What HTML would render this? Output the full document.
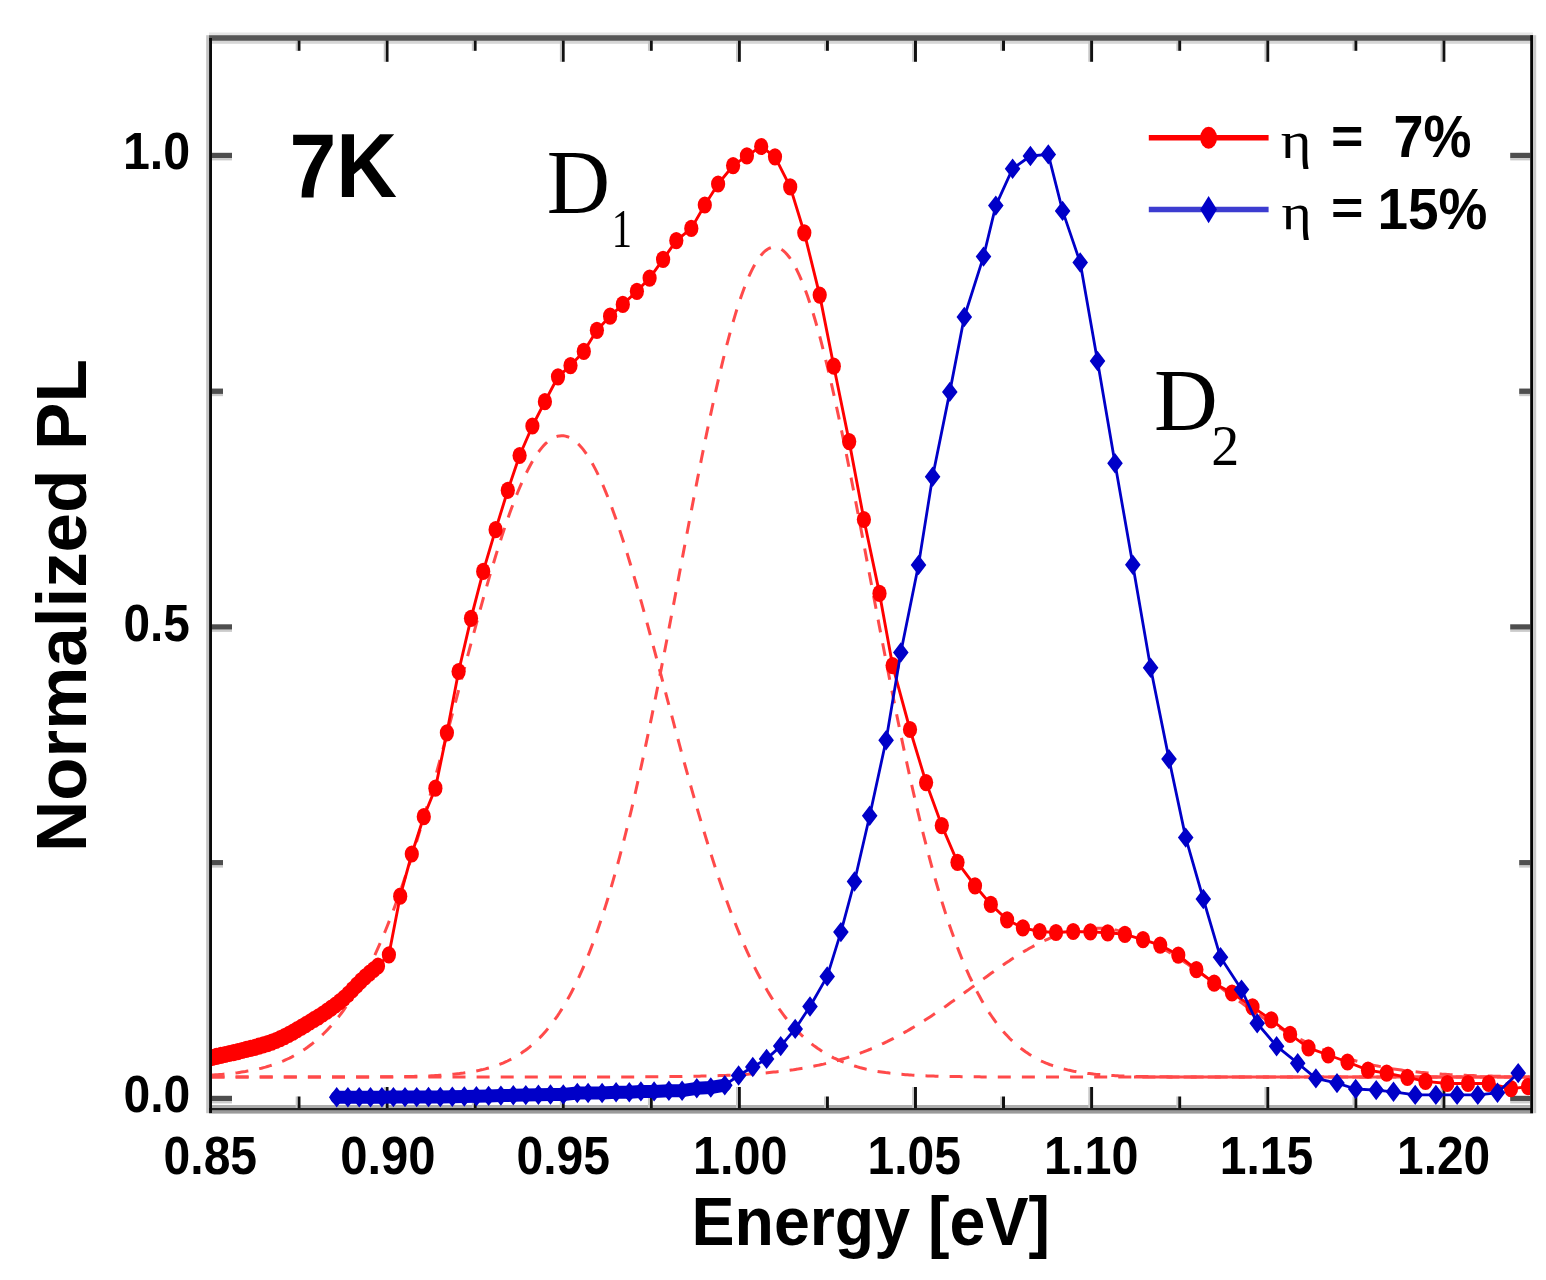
<!DOCTYPE html>
<html><head><meta charset="utf-8"><title>Normalized PL vs Energy</title>
<style>html,body{margin:0;padding:0;background:#fff;} svg{display:block;}</style></head>
<body>
<svg width="1546" height="1280" viewBox="0 0 1546 1280">
<rect width="1546" height="1280" fill="#fff"/>
<defs><clipPath id="pc"><rect x="212" y="40.8" width="1318.2" height="1067.2"/></clipPath></defs>
<rect x="212.00" y="40.80" width="1318.00" height="3.00" fill="#d6d6d6"/>
<rect x="212.00" y="1105.00" width="1318.00" height="3.00" fill="#adadad"/>
<rect x="212.00" y="1095.80" width="20.00" height="5.40" fill="#4e4e4e"/>
<rect x="212.00" y="1101.20" width="20.00" height="2.20" fill="#cbcbcb"/>
<rect x="1510.20" y="1095.80" width="20.00" height="5.40" fill="#4e4e4e"/>
<rect x="1510.20" y="1101.20" width="20.00" height="2.20" fill="#cbcbcb"/>
<rect x="212.00" y="860.05" width="11.00" height="5.40" fill="#4e4e4e"/>
<rect x="212.00" y="865.45" width="11.00" height="2.20" fill="#cbcbcb"/>
<rect x="1519.20" y="860.05" width="11.00" height="5.40" fill="#4e4e4e"/>
<rect x="1519.20" y="865.45" width="11.00" height="2.20" fill="#cbcbcb"/>
<rect x="212.00" y="624.30" width="20.00" height="5.40" fill="#4e4e4e"/>
<rect x="212.00" y="629.70" width="20.00" height="2.20" fill="#cbcbcb"/>
<rect x="1510.20" y="624.30" width="20.00" height="5.40" fill="#4e4e4e"/>
<rect x="1510.20" y="629.70" width="20.00" height="2.20" fill="#cbcbcb"/>
<rect x="212.00" y="388.55" width="11.00" height="5.40" fill="#4e4e4e"/>
<rect x="212.00" y="393.95" width="11.00" height="2.20" fill="#cbcbcb"/>
<rect x="1519.20" y="388.55" width="11.00" height="5.40" fill="#4e4e4e"/>
<rect x="1519.20" y="393.95" width="11.00" height="2.20" fill="#cbcbcb"/>
<rect x="212.00" y="152.80" width="20.00" height="5.40" fill="#4e4e4e"/>
<rect x="212.00" y="158.20" width="20.00" height="2.20" fill="#cbcbcb"/>
<rect x="1510.20" y="152.80" width="20.00" height="5.40" fill="#4e4e4e"/>
<rect x="1510.20" y="158.20" width="20.00" height="2.20" fill="#cbcbcb"/>
<rect x="297.47" y="1096.50" width="3.00" height="11.50" fill="#111"/>
<rect x="295.67" y="1096.50" width="1.80" height="11.50" fill="#c8c8c8"/>
<rect x="297.47" y="39.00" width="3.00" height="11.80" fill="#111"/>
<rect x="295.67" y="40.80" width="1.80" height="10.00" fill="#c8c8c8"/>
<rect x="385.54" y="1087.00" width="3.00" height="21.00" fill="#111"/>
<rect x="383.74" y="1087.00" width="1.80" height="21.00" fill="#c8c8c8"/>
<rect x="385.54" y="39.00" width="3.00" height="22.80" fill="#111"/>
<rect x="383.74" y="40.80" width="1.80" height="21.00" fill="#c8c8c8"/>
<rect x="473.61" y="1096.50" width="3.00" height="11.50" fill="#111"/>
<rect x="471.81" y="1096.50" width="1.80" height="11.50" fill="#c8c8c8"/>
<rect x="473.61" y="39.00" width="3.00" height="11.80" fill="#111"/>
<rect x="471.81" y="40.80" width="1.80" height="10.00" fill="#c8c8c8"/>
<rect x="561.67" y="1087.00" width="3.00" height="21.00" fill="#111"/>
<rect x="559.87" y="1087.00" width="1.80" height="21.00" fill="#c8c8c8"/>
<rect x="561.67" y="39.00" width="3.00" height="22.80" fill="#111"/>
<rect x="559.87" y="40.80" width="1.80" height="21.00" fill="#c8c8c8"/>
<rect x="649.74" y="1096.50" width="3.00" height="11.50" fill="#111"/>
<rect x="647.94" y="1096.50" width="1.80" height="11.50" fill="#c8c8c8"/>
<rect x="649.74" y="39.00" width="3.00" height="11.80" fill="#111"/>
<rect x="647.94" y="40.80" width="1.80" height="10.00" fill="#c8c8c8"/>
<rect x="737.81" y="1087.00" width="3.00" height="21.00" fill="#111"/>
<rect x="736.01" y="1087.00" width="1.80" height="21.00" fill="#c8c8c8"/>
<rect x="737.81" y="39.00" width="3.00" height="22.80" fill="#111"/>
<rect x="736.01" y="40.80" width="1.80" height="21.00" fill="#c8c8c8"/>
<rect x="825.88" y="1096.50" width="3.00" height="11.50" fill="#111"/>
<rect x="824.08" y="1096.50" width="1.80" height="11.50" fill="#c8c8c8"/>
<rect x="825.88" y="39.00" width="3.00" height="11.80" fill="#111"/>
<rect x="824.08" y="40.80" width="1.80" height="10.00" fill="#c8c8c8"/>
<rect x="913.95" y="1087.00" width="3.00" height="21.00" fill="#111"/>
<rect x="912.15" y="1087.00" width="1.80" height="21.00" fill="#c8c8c8"/>
<rect x="913.95" y="39.00" width="3.00" height="22.80" fill="#111"/>
<rect x="912.15" y="40.80" width="1.80" height="21.00" fill="#c8c8c8"/>
<rect x="1002.01" y="1096.50" width="3.00" height="11.50" fill="#111"/>
<rect x="1000.21" y="1096.50" width="1.80" height="11.50" fill="#c8c8c8"/>
<rect x="1002.01" y="39.00" width="3.00" height="11.80" fill="#111"/>
<rect x="1000.21" y="40.80" width="1.80" height="10.00" fill="#c8c8c8"/>
<rect x="1090.08" y="1087.00" width="3.00" height="21.00" fill="#111"/>
<rect x="1088.28" y="1087.00" width="1.80" height="21.00" fill="#c8c8c8"/>
<rect x="1090.08" y="39.00" width="3.00" height="22.80" fill="#111"/>
<rect x="1088.28" y="40.80" width="1.80" height="21.00" fill="#c8c8c8"/>
<rect x="1178.15" y="1096.50" width="3.00" height="11.50" fill="#111"/>
<rect x="1176.35" y="1096.50" width="1.80" height="11.50" fill="#c8c8c8"/>
<rect x="1178.15" y="39.00" width="3.00" height="11.80" fill="#111"/>
<rect x="1176.35" y="40.80" width="1.80" height="10.00" fill="#c8c8c8"/>
<rect x="1266.22" y="1087.00" width="3.00" height="21.00" fill="#111"/>
<rect x="1264.42" y="1087.00" width="1.80" height="21.00" fill="#c8c8c8"/>
<rect x="1266.22" y="39.00" width="3.00" height="22.80" fill="#111"/>
<rect x="1264.42" y="40.80" width="1.80" height="21.00" fill="#c8c8c8"/>
<rect x="1354.29" y="1096.50" width="3.00" height="11.50" fill="#111"/>
<rect x="1352.49" y="1096.50" width="1.80" height="11.50" fill="#c8c8c8"/>
<rect x="1354.29" y="39.00" width="3.00" height="11.80" fill="#111"/>
<rect x="1352.49" y="40.80" width="1.80" height="10.00" fill="#c8c8c8"/>
<rect x="1442.36" y="1087.00" width="3.00" height="21.00" fill="#111"/>
<rect x="1440.56" y="1087.00" width="1.80" height="21.00" fill="#c8c8c8"/>
<rect x="1442.36" y="39.00" width="3.00" height="22.80" fill="#111"/>
<rect x="1440.56" y="40.80" width="1.80" height="21.00" fill="#c8c8c8"/>
<g clip-path="url(#pc)">
<path d="M211.5,1075.1 L213.5,1075.0 L215.5,1074.8 L217.5,1074.7 L219.5,1074.5 L221.5,1074.4 L223.5,1074.2 L225.5,1074.0 L227.5,1073.8 L229.5,1073.6 L231.5,1073.4 L233.5,1073.2 L235.5,1072.9 L237.5,1072.7 L239.5,1072.4 L241.5,1072.1 L243.5,1071.8 L245.5,1071.5 L247.5,1071.1 L249.5,1070.8 L251.5,1070.4 L253.5,1070.0 L255.5,1069.6 L257.5,1069.1 L259.5,1068.6 L261.5,1068.2 L263.5,1067.6 L265.5,1067.1 L267.5,1066.5 L269.5,1065.9 L271.5,1065.3 L273.5,1064.6 L275.5,1063.9 L277.5,1063.2 L279.5,1062.4 L281.5,1061.6 L283.5,1060.8 L285.5,1059.9 L287.5,1059.0 L289.5,1058.1 L291.5,1057.1 L293.5,1056.0 L295.5,1054.9 L297.5,1053.8 L299.5,1052.6 L301.5,1051.3 L303.5,1050.0 L305.5,1048.7 L307.5,1047.3 L309.5,1045.8 L311.5,1044.3 L313.5,1042.7 L315.5,1041.1 L317.5,1039.3 L319.5,1037.6 L321.5,1035.7 L323.5,1033.8 L325.5,1031.8 L327.5,1029.7 L329.5,1027.6 L331.5,1025.4 L333.5,1023.1 L335.5,1020.7 L337.5,1018.2 L339.5,1015.7 L341.5,1013.0 L343.5,1010.3 L345.5,1007.5 L347.5,1004.6 L349.5,1001.6 L351.5,998.5 L353.5,995.3 L355.5,992.1 L357.5,988.7 L359.5,985.2 L361.5,981.6 L363.5,977.9 L365.5,974.2 L367.5,970.3 L369.5,966.3 L371.5,962.2 L373.5,958.0 L375.5,953.7 L377.5,949.2 L379.5,944.7 L381.5,940.1 L383.5,935.3 L385.5,930.5 L387.5,925.5 L389.5,920.4 L391.5,915.3 L393.5,910.0 L395.5,904.6 L397.5,899.1 L399.5,893.5 L401.5,887.8 L403.5,882.0 L405.5,876.0 L407.5,870.0 L409.5,863.9 L411.5,857.7 L413.5,851.4 L415.5,845.0 L417.5,838.5 L419.5,831.9 L421.5,825.2 L423.5,818.5 L425.5,811.6 L427.5,804.7 L429.5,797.7 L431.5,790.7 L433.5,783.6 L435.5,776.4 L437.5,769.1 L439.5,761.8 L441.5,754.5 L443.5,747.1 L445.5,739.7 L447.5,732.2 L449.5,724.7 L451.5,717.2 L453.5,709.6 L455.5,702.1 L457.5,694.5 L459.5,686.9 L461.5,679.3 L463.5,671.7 L465.5,664.2 L467.5,656.6 L469.5,649.1 L471.5,641.6 L473.5,634.2 L475.5,626.8 L477.5,619.4 L479.5,612.1 L481.5,604.9 L483.5,597.7 L485.5,590.6 L487.5,583.6 L489.5,576.7 L491.5,569.9 L493.5,563.2 L495.5,556.5 L497.5,550.0 L499.5,543.7 L501.5,537.4 L503.5,531.3 L505.5,525.3 L507.5,519.5 L509.5,513.8 L511.5,508.3 L513.5,503.0 L515.5,497.8 L517.5,492.8 L519.5,488.0 L521.5,483.3 L523.5,478.9 L525.5,474.6 L527.5,470.6 L529.5,466.7 L531.5,463.1 L533.5,459.6 L535.5,456.4 L537.5,453.4 L539.5,450.7 L541.5,448.1 L543.5,445.8 L545.5,443.7 L547.5,441.9 L549.5,440.3 L551.5,438.9 L553.5,437.8 L555.5,436.9 L557.5,436.3 L559.5,435.9 L561.5,435.7 L563.5,435.8 L565.5,436.1 L567.5,436.7 L569.5,437.5 L571.5,438.6 L573.5,439.9 L575.5,441.4 L577.5,443.2 L579.5,445.2 L581.5,447.4 L583.5,449.9 L585.5,452.6 L587.5,455.5 L589.5,458.7 L591.5,462.0 L593.5,465.6 L595.5,469.4 L597.5,473.4 L599.5,477.6 L601.5,482.0 L603.5,486.5 L605.5,491.3 L607.5,496.3 L609.5,501.4 L611.5,506.7 L613.5,512.2 L615.5,517.8 L617.5,523.6 L619.5,529.5 L621.5,535.6 L623.5,541.8 L625.5,548.1 L627.5,554.6 L629.5,561.2 L631.5,567.8 L633.5,574.6 L635.5,581.5 L637.5,588.5 L639.5,595.6 L641.5,602.7 L643.5,609.9 L645.5,617.2 L647.5,624.6 L649.5,632.0 L651.5,639.4 L653.5,646.9 L655.5,654.4 L657.5,661.9 L659.5,669.5 L661.5,677.0 L663.5,684.6 L665.5,692.2 L667.5,699.8 L669.5,707.4 L671.5,714.9 L673.5,722.4 L675.5,730.0 L677.5,737.4 L679.5,744.9 L681.5,752.3 L683.5,759.6 L685.5,767.0 L687.5,774.2 L689.5,781.4 L691.5,788.6 L693.5,795.6 L695.5,802.6 L697.5,809.6 L699.5,816.4 L701.5,823.2 L703.5,829.9 L705.5,836.5 L707.5,843.0 L709.5,849.5 L711.5,855.8 L713.5,862.0 L715.5,868.2 L717.5,874.2 L719.5,880.2 L721.5,886.0 L723.5,891.8 L725.5,897.4 L727.5,902.9 L729.5,908.4 L731.5,913.7 L733.5,918.9 L735.5,924.0 L737.5,929.0 L739.5,933.9 L741.5,938.7 L743.5,943.3 L745.5,947.9 L747.5,952.3 L749.5,956.7 L751.5,960.9 L753.5,965.1 L755.5,969.1 L757.5,973.0 L759.5,976.8 L761.5,980.5 L763.5,984.1 L765.5,987.6 L767.5,991.1 L769.5,994.4 L771.5,997.6 L773.5,1000.7 L775.5,1003.7 L777.5,1006.6 L779.5,1009.5 L781.5,1012.2 L783.5,1014.9 L785.5,1017.5 L787.5,1020.0 L789.5,1022.4 L791.5,1024.7 L793.5,1026.9 L795.5,1029.1 L797.5,1031.2 L799.5,1033.2 L801.5,1035.1 L803.5,1037.0 L805.5,1038.8 L807.5,1040.5 L809.5,1042.2 L811.5,1043.8 L813.5,1045.4 L815.5,1046.8 L817.5,1048.3 L819.5,1049.6 L821.5,1050.9 L823.5,1052.2 L825.5,1053.4 L827.5,1054.6 L829.5,1055.7 L831.5,1056.7 L833.5,1057.8 L835.5,1058.7 L837.5,1059.7 L839.5,1060.5 L841.5,1061.4 L843.5,1062.2 L845.5,1063.0 L847.5,1063.7 L849.5,1064.4 L851.5,1065.1 L853.5,1065.7 L855.5,1066.3 L857.5,1066.9 L859.5,1067.5 L861.5,1068.0 L863.5,1068.5 L865.5,1069.0 L867.5,1069.4 L869.5,1069.9 L871.5,1070.3 L873.5,1070.6 L875.5,1071.0 L877.5,1071.4 L879.5,1071.7 L881.5,1072.0 L883.5,1072.3 L885.5,1072.6 L887.5,1072.8 L889.5,1073.1 L891.5,1073.3 L893.5,1073.6 L895.5,1073.8 L897.5,1074.0 L899.5,1074.2 L901.5,1074.3 L903.5,1074.5 L905.5,1074.7 L907.5,1074.8 L909.5,1074.9 L911.5,1075.1 L913.5,1075.2 L915.5,1075.3 L917.5,1075.4 L919.5,1075.5 L921.5,1075.6 L923.5,1075.7 L925.5,1075.8 L927.5,1075.9 L929.5,1076.0 L931.5,1076.0 L933.5,1076.1 L935.5,1076.2 L937.5,1076.2 L939.5,1076.3 L941.5,1076.3 L943.5,1076.4 L945.5,1076.4 L947.5,1076.5 L949.5,1076.5 L951.5,1076.5 L953.5,1076.6 L955.5,1076.6 L957.5,1076.6 L959.5,1076.6 L961.5,1076.7 L963.5,1076.7 L965.5,1076.7 L967.5,1076.7 L969.5,1076.8 L971.5,1076.8 L973.5,1076.8 L975.5,1076.8 L977.5,1076.8 L979.5,1076.8 L981.5,1076.9 L983.5,1076.9 L985.5,1076.9 L987.5,1076.9 L989.5,1076.9 L991.5,1076.9 L993.5,1076.9 L995.5,1076.9 L997.5,1076.9 L999.5,1076.9 L1001.5,1076.9 L1003.5,1076.9 L1005.5,1076.9 L1007.5,1076.9 L1009.5,1077.0 L1011.5,1077.0 L1013.5,1077.0 L1015.5,1077.0 L1017.5,1077.0 L1019.5,1077.0 L1021.5,1077.0 L1023.5,1077.0 L1025.5,1077.0 L1027.5,1077.0 L1029.5,1077.0 L1031.5,1077.0 L1033.5,1077.0 L1035.5,1077.0 L1037.5,1077.0 L1039.5,1077.0 L1041.5,1077.0 L1043.5,1077.0 L1045.5,1077.0 L1047.5,1077.0 L1049.5,1077.0 L1051.5,1077.0 L1053.5,1077.0 L1055.5,1077.0 L1057.5,1077.0 L1059.5,1077.0 L1061.5,1077.0 L1063.5,1077.0 L1065.5,1077.0 L1067.5,1077.0 L1069.5,1077.0 L1071.5,1077.0 L1073.5,1077.0 L1075.5,1077.0 L1077.5,1077.0 L1079.5,1077.0 L1081.5,1077.0 L1083.5,1077.0 L1085.5,1077.0 L1087.5,1077.0 L1089.5,1077.0 L1091.5,1077.0 L1093.5,1077.0 L1095.5,1077.0 L1097.5,1077.0 L1099.5,1077.0 L1101.5,1077.0 L1103.5,1077.0 L1105.5,1077.0 L1107.5,1077.0 L1109.5,1077.0 L1111.5,1077.0 L1113.5,1077.0 L1115.5,1077.0 L1117.5,1077.0 L1119.5,1077.0 L1121.5,1077.0 L1123.5,1077.0 L1125.5,1077.0 L1127.5,1077.0 L1129.5,1077.0 L1131.5,1077.0 L1133.5,1077.0 L1135.5,1077.0 L1137.5,1077.0 L1139.5,1077.0 L1141.5,1077.0 L1143.5,1077.0 L1145.5,1077.0 L1147.5,1077.0 L1149.5,1077.0 L1151.5,1077.0 L1153.5,1077.0 L1155.5,1077.0 L1157.5,1077.0 L1159.5,1077.0 L1161.5,1077.0 L1163.5,1077.0 L1165.5,1077.0 L1167.5,1077.0 L1169.5,1077.0 L1171.5,1077.0 L1173.5,1077.0 L1175.5,1077.0 L1177.5,1077.0 L1179.5,1077.0 L1181.5,1077.0 L1183.5,1077.0 L1185.5,1077.0 L1187.5,1077.0 L1189.5,1077.0 L1191.5,1077.0 L1193.5,1077.0 L1195.5,1077.0 L1197.5,1077.0 L1199.5,1077.0 L1201.5,1077.0 L1203.5,1077.0 L1205.5,1077.0 L1207.5,1077.0 L1209.5,1077.0 L1211.5,1077.0 L1213.5,1077.0 L1215.5,1077.0 L1217.5,1077.0 L1219.5,1077.0 L1221.5,1077.0 L1223.5,1077.0 L1225.5,1077.0 L1227.5,1077.0 L1229.5,1077.0 L1231.5,1077.0 L1233.5,1077.0 L1235.5,1077.0 L1237.5,1077.0 L1239.5,1077.0 L1241.5,1077.0 L1243.5,1077.0 L1245.5,1077.0 L1247.5,1077.0 L1249.5,1077.0 L1251.5,1077.0 L1253.5,1077.0 L1255.5,1077.0 L1257.5,1077.0 L1259.5,1077.0 L1261.5,1077.0 L1263.5,1077.0 L1265.5,1077.0 L1267.5,1077.0 L1269.5,1077.0 L1271.5,1077.0 L1273.5,1077.0 L1275.5,1077.0 L1277.5,1077.0 L1279.5,1077.0 L1281.5,1077.0 L1283.5,1077.0 L1285.5,1077.0 L1287.5,1077.0 L1289.5,1077.0 L1291.5,1077.0 L1293.5,1077.0 L1295.5,1077.0 L1297.5,1077.0 L1299.5,1077.0 L1301.5,1077.0 L1303.5,1077.0 L1305.5,1077.0 L1307.5,1077.0 L1309.5,1077.0 L1311.5,1077.0 L1313.5,1077.0 L1315.5,1077.0 L1317.5,1077.0 L1319.5,1077.0 L1321.5,1077.0 L1323.5,1077.0 L1325.5,1077.0 L1327.5,1077.0 L1329.5,1077.0 L1331.5,1077.0 L1333.5,1077.0 L1335.5,1077.0 L1337.5,1077.0 L1339.5,1077.0 L1341.5,1077.0 L1343.5,1077.0 L1345.5,1077.0 L1347.5,1077.0 L1349.5,1077.0 L1351.5,1077.0 L1353.5,1077.0 L1355.5,1077.0 L1357.5,1077.0 L1359.5,1077.0 L1361.5,1077.0 L1363.5,1077.0 L1365.5,1077.0 L1367.5,1077.0 L1369.5,1077.0 L1371.5,1077.0 L1373.5,1077.0 L1375.5,1077.0 L1377.5,1077.0 L1379.5,1077.0 L1381.5,1077.0 L1383.5,1077.0 L1385.5,1077.0 L1387.5,1077.0 L1389.5,1077.0 L1391.5,1077.0 L1393.5,1077.0 L1395.5,1077.0 L1397.5,1077.0 L1399.5,1077.0 L1401.5,1077.0 L1403.5,1077.0 L1405.5,1077.0 L1407.5,1077.0 L1409.5,1077.0 L1411.5,1077.0 L1413.5,1077.0 L1415.5,1077.0 L1417.5,1077.0 L1419.5,1077.0 L1421.5,1077.0 L1423.5,1077.0 L1425.5,1077.0 L1427.5,1077.0 L1429.5,1077.0 L1431.5,1077.0 L1433.5,1077.0 L1435.5,1077.0 L1437.5,1077.0 L1439.5,1077.0 L1441.5,1077.0 L1443.5,1077.0 L1445.5,1077.0 L1447.5,1077.0 L1449.5,1077.0 L1451.5,1077.0 L1453.5,1077.0 L1455.5,1077.0 L1457.5,1077.0 L1459.5,1077.0 L1461.5,1077.0 L1463.5,1077.0 L1465.5,1077.0 L1467.5,1077.0 L1469.5,1077.0 L1471.5,1077.0 L1473.5,1077.0 L1475.5,1077.0 L1477.5,1077.0 L1479.5,1077.0 L1481.5,1077.0 L1483.5,1077.0 L1485.5,1077.0 L1487.5,1077.0 L1489.5,1077.0 L1491.5,1077.0 L1493.5,1077.0 L1495.5,1077.0 L1497.5,1077.0 L1499.5,1077.0 L1501.5,1077.0 L1503.5,1077.0 L1505.5,1077.0 L1507.5,1077.0 L1509.5,1077.0 L1511.5,1077.0 L1513.5,1077.0 L1515.5,1077.0 L1517.5,1077.0 L1519.5,1077.0 L1521.5,1077.0 L1523.5,1077.0 L1525.5,1077.0 L1527.5,1077.0 L1529.5,1077.0" stroke="#ff4a4a" stroke-width="3" fill="none" stroke-dasharray="13 11.1"/>
<path d="M211.5,1077.0 L213.5,1077.0 L215.5,1077.0 L217.5,1077.0 L219.5,1077.0 L221.5,1077.0 L223.5,1077.0 L225.5,1077.0 L227.5,1077.0 L229.5,1077.0 L231.5,1077.0 L233.5,1077.0 L235.5,1077.0 L237.5,1077.0 L239.5,1077.0 L241.5,1077.0 L243.5,1077.0 L245.5,1077.0 L247.5,1077.0 L249.5,1077.0 L251.5,1077.0 L253.5,1077.0 L255.5,1077.0 L257.5,1077.0 L259.5,1077.0 L261.5,1077.0 L263.5,1077.0 L265.5,1077.0 L267.5,1077.0 L269.5,1077.0 L271.5,1077.0 L273.5,1077.0 L275.5,1077.0 L277.5,1077.0 L279.5,1077.0 L281.5,1077.0 L283.5,1077.0 L285.5,1077.0 L287.5,1077.0 L289.5,1077.0 L291.5,1077.0 L293.5,1077.0 L295.5,1077.0 L297.5,1077.0 L299.5,1077.0 L301.5,1077.0 L303.5,1077.0 L305.5,1077.0 L307.5,1077.0 L309.5,1077.0 L311.5,1077.0 L313.5,1077.0 L315.5,1077.0 L317.5,1077.0 L319.5,1077.0 L321.5,1077.0 L323.5,1077.0 L325.5,1077.0 L327.5,1077.0 L329.5,1077.0 L331.5,1077.0 L333.5,1077.0 L335.5,1077.0 L337.5,1077.0 L339.5,1077.0 L341.5,1077.0 L343.5,1077.0 L345.5,1077.0 L347.5,1077.0 L349.5,1077.0 L351.5,1077.0 L353.5,1077.0 L355.5,1077.0 L357.5,1076.9 L359.5,1076.9 L361.5,1076.9 L363.5,1076.9 L365.5,1076.9 L367.5,1076.9 L369.5,1076.9 L371.5,1076.9 L373.5,1076.9 L375.5,1076.9 L377.5,1076.9 L379.5,1076.9 L381.5,1076.8 L383.5,1076.8 L385.5,1076.8 L387.5,1076.8 L389.5,1076.8 L391.5,1076.8 L393.5,1076.7 L395.5,1076.7 L397.5,1076.7 L399.5,1076.7 L401.5,1076.6 L403.5,1076.6 L405.5,1076.6 L407.5,1076.5 L409.5,1076.5 L411.5,1076.4 L413.5,1076.4 L415.5,1076.3 L417.5,1076.3 L419.5,1076.2 L421.5,1076.2 L423.5,1076.1 L425.5,1076.0 L427.5,1075.9 L429.5,1075.9 L431.5,1075.8 L433.5,1075.7 L435.5,1075.6 L437.5,1075.5 L439.5,1075.3 L441.5,1075.2 L443.5,1075.1 L445.5,1074.9 L447.5,1074.8 L449.5,1074.6 L451.5,1074.4 L453.5,1074.2 L455.5,1074.0 L457.5,1073.8 L459.5,1073.6 L461.5,1073.3 L463.5,1073.1 L465.5,1072.8 L467.5,1072.5 L469.5,1072.2 L471.5,1071.9 L473.5,1071.5 L475.5,1071.1 L477.5,1070.7 L479.5,1070.3 L481.5,1069.8 L483.5,1069.4 L485.5,1068.9 L487.5,1068.3 L489.5,1067.8 L491.5,1067.2 L493.5,1066.5 L495.5,1065.8 L497.5,1065.1 L499.5,1064.4 L501.5,1063.6 L503.5,1062.8 L505.5,1061.9 L507.5,1061.0 L509.5,1060.0 L511.5,1059.0 L513.5,1057.9 L515.5,1056.8 L517.5,1055.6 L519.5,1054.3 L521.5,1053.0 L523.5,1051.6 L525.5,1050.2 L527.5,1048.7 L529.5,1047.1 L531.5,1045.4 L533.5,1043.7 L535.5,1041.9 L537.5,1040.0 L539.5,1038.0 L541.5,1035.9 L543.5,1033.7 L545.5,1031.5 L547.5,1029.1 L549.5,1026.6 L551.5,1024.1 L553.5,1021.4 L555.5,1018.6 L557.5,1015.8 L559.5,1012.8 L561.5,1009.6 L563.5,1006.4 L565.5,1003.0 L567.5,999.5 L569.5,995.9 L571.5,992.2 L573.5,988.3 L575.5,984.3 L577.5,980.1 L579.5,975.8 L581.5,971.4 L583.5,966.8 L585.5,962.1 L587.5,957.2 L589.5,952.1 L591.5,946.9 L593.5,941.6 L595.5,936.1 L597.5,930.4 L599.5,924.6 L601.5,918.6 L603.5,912.5 L605.5,906.1 L607.5,899.7 L609.5,893.0 L611.5,886.2 L613.5,879.2 L615.5,872.1 L617.5,864.8 L619.5,857.4 L621.5,849.7 L623.5,842.0 L625.5,834.0 L627.5,825.9 L629.5,817.7 L631.5,809.3 L633.5,800.7 L635.5,792.0 L637.5,783.2 L639.5,774.2 L641.5,765.1 L643.5,755.8 L645.5,746.4 L647.5,736.9 L649.5,727.3 L651.5,717.6 L653.5,707.7 L655.5,697.8 L657.5,687.8 L659.5,677.6 L661.5,667.4 L663.5,657.1 L665.5,646.8 L667.5,636.4 L669.5,625.9 L671.5,615.4 L673.5,604.9 L675.5,594.3 L677.5,583.7 L679.5,573.1 L681.5,562.5 L683.5,551.9 L685.5,541.4 L687.5,530.8 L689.5,520.3 L691.5,509.9 L693.5,499.5 L695.5,489.2 L697.5,478.9 L699.5,468.8 L701.5,458.8 L703.5,448.8 L705.5,439.0 L707.5,429.4 L709.5,419.8 L711.5,410.5 L713.5,401.2 L715.5,392.2 L717.5,383.4 L719.5,374.7 L721.5,366.3 L723.5,358.1 L725.5,350.1 L727.5,342.3 L729.5,334.8 L731.5,327.5 L733.5,320.6 L735.5,313.8 L737.5,307.4 L739.5,301.3 L741.5,295.4 L743.5,289.9 L745.5,284.6 L747.5,279.7 L749.5,275.1 L751.5,270.9 L753.5,266.9 L755.5,263.4 L757.5,260.1 L759.5,257.2 L761.5,254.7 L763.5,252.5 L765.5,250.7 L767.5,249.3 L769.5,248.2 L771.5,247.5 L773.5,247.1 L775.5,247.2 L777.5,247.5 L779.5,248.3 L781.5,249.4 L783.5,250.9 L785.5,252.7 L787.5,255.0 L789.5,257.5 L791.5,260.4 L793.5,263.7 L795.5,267.3 L797.5,271.3 L799.5,275.6 L801.5,280.2 L803.5,285.1 L805.5,290.4 L807.5,296.0 L809.5,301.9 L811.5,308.0 L813.5,314.5 L815.5,321.2 L817.5,328.3 L819.5,335.5 L821.5,343.1 L823.5,350.9 L825.5,358.9 L827.5,367.1 L829.5,375.6 L831.5,384.2 L833.5,393.1 L835.5,402.2 L837.5,411.4 L839.5,420.8 L841.5,430.3 L843.5,440.0 L845.5,449.8 L847.5,459.8 L849.5,469.8 L851.5,480.0 L853.5,490.2 L855.5,500.5 L857.5,510.9 L859.5,521.4 L861.5,531.9 L863.5,542.4 L865.5,553.0 L867.5,563.6 L869.5,574.2 L871.5,584.8 L873.5,595.4 L875.5,605.9 L877.5,616.5 L879.5,627.0 L881.5,637.4 L883.5,647.8 L885.5,658.2 L887.5,668.4 L889.5,678.6 L891.5,688.8 L893.5,698.8 L895.5,708.7 L897.5,718.6 L899.5,728.3 L901.5,737.9 L903.5,747.4 L905.5,756.7 L907.5,766.0 L909.5,775.1 L911.5,784.1 L913.5,792.9 L915.5,801.6 L917.5,810.1 L919.5,818.5 L921.5,826.7 L923.5,834.8 L925.5,842.7 L927.5,850.5 L929.5,858.1 L931.5,865.6 L933.5,872.8 L935.5,880.0 L937.5,886.9 L939.5,893.7 L941.5,900.3 L943.5,906.8 L945.5,913.1 L947.5,919.2 L949.5,925.2 L951.5,931.0 L953.5,936.6 L955.5,942.1 L957.5,947.5 L959.5,952.6 L961.5,957.7 L963.5,962.5 L965.5,967.3 L967.5,971.8 L969.5,976.3 L971.5,980.5 L973.5,984.7 L975.5,988.7 L977.5,992.6 L979.5,996.3 L981.5,999.9 L983.5,1003.4 L985.5,1006.7 L987.5,1010.0 L989.5,1013.1 L991.5,1016.0 L993.5,1018.9 L995.5,1021.7 L997.5,1024.3 L999.5,1026.9 L1001.5,1029.3 L1003.5,1031.7 L1005.5,1033.9 L1007.5,1036.1 L1009.5,1038.2 L1011.5,1040.2 L1013.5,1042.0 L1015.5,1043.9 L1017.5,1045.6 L1019.5,1047.2 L1021.5,1048.8 L1023.5,1050.3 L1025.5,1051.8 L1027.5,1053.1 L1029.5,1054.4 L1031.5,1055.7 L1033.5,1056.9 L1035.5,1058.0 L1037.5,1059.1 L1039.5,1060.1 L1041.5,1061.1 L1043.5,1062.0 L1045.5,1062.9 L1047.5,1063.7 L1049.5,1064.5 L1051.5,1065.2 L1053.5,1065.9 L1055.5,1066.6 L1057.5,1067.2 L1059.5,1067.8 L1061.5,1068.4 L1063.5,1068.9 L1065.5,1069.4 L1067.5,1069.9 L1069.5,1070.3 L1071.5,1070.8 L1073.5,1071.2 L1075.5,1071.5 L1077.5,1071.9 L1079.5,1072.2 L1081.5,1072.5 L1083.5,1072.8 L1085.5,1073.1 L1087.5,1073.4 L1089.5,1073.6 L1091.5,1073.8 L1093.5,1074.1 L1095.5,1074.3 L1097.5,1074.4 L1099.5,1074.6 L1101.5,1074.8 L1103.5,1074.9 L1105.5,1075.1 L1107.5,1075.2 L1109.5,1075.4 L1111.5,1075.5 L1113.5,1075.6 L1115.5,1075.7 L1117.5,1075.8 L1119.5,1075.9 L1121.5,1076.0 L1123.5,1076.0 L1125.5,1076.1 L1127.5,1076.2 L1129.5,1076.2 L1131.5,1076.3 L1133.5,1076.3 L1135.5,1076.4 L1137.5,1076.4 L1139.5,1076.5 L1141.5,1076.5 L1143.5,1076.6 L1145.5,1076.6 L1147.5,1076.6 L1149.5,1076.7 L1151.5,1076.7 L1153.5,1076.7 L1155.5,1076.7 L1157.5,1076.8 L1159.5,1076.8 L1161.5,1076.8 L1163.5,1076.8 L1165.5,1076.8 L1167.5,1076.8 L1169.5,1076.9 L1171.5,1076.9 L1173.5,1076.9 L1175.5,1076.9 L1177.5,1076.9 L1179.5,1076.9 L1181.5,1076.9 L1183.5,1076.9 L1185.5,1076.9 L1187.5,1076.9 L1189.5,1076.9 L1191.5,1076.9 L1193.5,1077.0 L1195.5,1077.0 L1197.5,1077.0 L1199.5,1077.0 L1201.5,1077.0 L1203.5,1077.0 L1205.5,1077.0 L1207.5,1077.0 L1209.5,1077.0 L1211.5,1077.0 L1213.5,1077.0 L1215.5,1077.0 L1217.5,1077.0 L1219.5,1077.0 L1221.5,1077.0 L1223.5,1077.0 L1225.5,1077.0 L1227.5,1077.0 L1229.5,1077.0 L1231.5,1077.0 L1233.5,1077.0 L1235.5,1077.0 L1237.5,1077.0 L1239.5,1077.0 L1241.5,1077.0 L1243.5,1077.0 L1245.5,1077.0 L1247.5,1077.0 L1249.5,1077.0 L1251.5,1077.0 L1253.5,1077.0 L1255.5,1077.0 L1257.5,1077.0 L1259.5,1077.0 L1261.5,1077.0 L1263.5,1077.0 L1265.5,1077.0 L1267.5,1077.0 L1269.5,1077.0 L1271.5,1077.0 L1273.5,1077.0 L1275.5,1077.0 L1277.5,1077.0 L1279.5,1077.0 L1281.5,1077.0 L1283.5,1077.0 L1285.5,1077.0 L1287.5,1077.0 L1289.5,1077.0 L1291.5,1077.0 L1293.5,1077.0 L1295.5,1077.0 L1297.5,1077.0 L1299.5,1077.0 L1301.5,1077.0 L1303.5,1077.0 L1305.5,1077.0 L1307.5,1077.0 L1309.5,1077.0 L1311.5,1077.0 L1313.5,1077.0 L1315.5,1077.0 L1317.5,1077.0 L1319.5,1077.0 L1321.5,1077.0 L1323.5,1077.0 L1325.5,1077.0 L1327.5,1077.0 L1329.5,1077.0 L1331.5,1077.0 L1333.5,1077.0 L1335.5,1077.0 L1337.5,1077.0 L1339.5,1077.0 L1341.5,1077.0 L1343.5,1077.0 L1345.5,1077.0 L1347.5,1077.0 L1349.5,1077.0 L1351.5,1077.0 L1353.5,1077.0 L1355.5,1077.0 L1357.5,1077.0 L1359.5,1077.0 L1361.5,1077.0 L1363.5,1077.0 L1365.5,1077.0 L1367.5,1077.0 L1369.5,1077.0 L1371.5,1077.0 L1373.5,1077.0 L1375.5,1077.0 L1377.5,1077.0 L1379.5,1077.0 L1381.5,1077.0 L1383.5,1077.0 L1385.5,1077.0 L1387.5,1077.0 L1389.5,1077.0 L1391.5,1077.0 L1393.5,1077.0 L1395.5,1077.0 L1397.5,1077.0 L1399.5,1077.0 L1401.5,1077.0 L1403.5,1077.0 L1405.5,1077.0 L1407.5,1077.0 L1409.5,1077.0 L1411.5,1077.0 L1413.5,1077.0 L1415.5,1077.0 L1417.5,1077.0 L1419.5,1077.0 L1421.5,1077.0 L1423.5,1077.0 L1425.5,1077.0 L1427.5,1077.0 L1429.5,1077.0 L1431.5,1077.0 L1433.5,1077.0 L1435.5,1077.0 L1437.5,1077.0 L1439.5,1077.0 L1441.5,1077.0 L1443.5,1077.0 L1445.5,1077.0 L1447.5,1077.0 L1449.5,1077.0 L1451.5,1077.0 L1453.5,1077.0 L1455.5,1077.0 L1457.5,1077.0 L1459.5,1077.0 L1461.5,1077.0 L1463.5,1077.0 L1465.5,1077.0 L1467.5,1077.0 L1469.5,1077.0 L1471.5,1077.0 L1473.5,1077.0 L1475.5,1077.0 L1477.5,1077.0 L1479.5,1077.0 L1481.5,1077.0 L1483.5,1077.0 L1485.5,1077.0 L1487.5,1077.0 L1489.5,1077.0 L1491.5,1077.0 L1493.5,1077.0 L1495.5,1077.0 L1497.5,1077.0 L1499.5,1077.0 L1501.5,1077.0 L1503.5,1077.0 L1505.5,1077.0 L1507.5,1077.0 L1509.5,1077.0 L1511.5,1077.0 L1513.5,1077.0 L1515.5,1077.0 L1517.5,1077.0 L1519.5,1077.0 L1521.5,1077.0 L1523.5,1077.0 L1525.5,1077.0 L1527.5,1077.0 L1529.5,1077.0" stroke="#ff4a4a" stroke-width="3" fill="none" stroke-dasharray="13 11.1"/>
<path d="M211.5,1077.0 L213.5,1077.0 L215.5,1077.0 L217.5,1077.0 L219.5,1077.0 L221.5,1077.0 L223.5,1077.0 L225.5,1077.0 L227.5,1077.0 L229.5,1077.0 L231.5,1077.0 L233.5,1077.0 L235.5,1077.0 L237.5,1077.0 L239.5,1077.0 L241.5,1077.0 L243.5,1077.0 L245.5,1077.0 L247.5,1077.0 L249.5,1077.0 L251.5,1077.0 L253.5,1077.0 L255.5,1077.0 L257.5,1077.0 L259.5,1077.0 L261.5,1077.0 L263.5,1077.0 L265.5,1077.0 L267.5,1077.0 L269.5,1077.0 L271.5,1077.0 L273.5,1077.0 L275.5,1077.0 L277.5,1077.0 L279.5,1077.0 L281.5,1077.0 L283.5,1077.0 L285.5,1077.0 L287.5,1077.0 L289.5,1077.0 L291.5,1077.0 L293.5,1077.0 L295.5,1077.0 L297.5,1077.0 L299.5,1077.0 L301.5,1077.0 L303.5,1077.0 L305.5,1077.0 L307.5,1077.0 L309.5,1077.0 L311.5,1077.0 L313.5,1077.0 L315.5,1077.0 L317.5,1077.0 L319.5,1077.0 L321.5,1077.0 L323.5,1077.0 L325.5,1077.0 L327.5,1077.0 L329.5,1077.0 L331.5,1077.0 L333.5,1077.0 L335.5,1077.0 L337.5,1077.0 L339.5,1077.0 L341.5,1077.0 L343.5,1077.0 L345.5,1077.0 L347.5,1077.0 L349.5,1077.0 L351.5,1077.0 L353.5,1077.0 L355.5,1077.0 L357.5,1077.0 L359.5,1077.0 L361.5,1077.0 L363.5,1077.0 L365.5,1077.0 L367.5,1077.0 L369.5,1077.0 L371.5,1077.0 L373.5,1077.0 L375.5,1077.0 L377.5,1077.0 L379.5,1077.0 L381.5,1077.0 L383.5,1077.0 L385.5,1077.0 L387.5,1077.0 L389.5,1077.0 L391.5,1077.0 L393.5,1077.0 L395.5,1077.0 L397.5,1077.0 L399.5,1077.0 L401.5,1077.0 L403.5,1077.0 L405.5,1077.0 L407.5,1077.0 L409.5,1077.0 L411.5,1077.0 L413.5,1077.0 L415.5,1077.0 L417.5,1077.0 L419.5,1077.0 L421.5,1077.0 L423.5,1077.0 L425.5,1077.0 L427.5,1077.0 L429.5,1077.0 L431.5,1077.0 L433.5,1077.0 L435.5,1077.0 L437.5,1077.0 L439.5,1077.0 L441.5,1077.0 L443.5,1077.0 L445.5,1077.0 L447.5,1077.0 L449.5,1077.0 L451.5,1077.0 L453.5,1077.0 L455.5,1077.0 L457.5,1077.0 L459.5,1077.0 L461.5,1077.0 L463.5,1077.0 L465.5,1077.0 L467.5,1077.0 L469.5,1077.0 L471.5,1077.0 L473.5,1077.0 L475.5,1077.0 L477.5,1077.0 L479.5,1077.0 L481.5,1077.0 L483.5,1077.0 L485.5,1077.0 L487.5,1077.0 L489.5,1077.0 L491.5,1077.0 L493.5,1077.0 L495.5,1077.0 L497.5,1077.0 L499.5,1077.0 L501.5,1077.0 L503.5,1077.0 L505.5,1077.0 L507.5,1077.0 L509.5,1077.0 L511.5,1077.0 L513.5,1077.0 L515.5,1077.0 L517.5,1077.0 L519.5,1077.0 L521.5,1077.0 L523.5,1077.0 L525.5,1077.0 L527.5,1077.0 L529.5,1077.0 L531.5,1077.0 L533.5,1077.0 L535.5,1077.0 L537.5,1077.0 L539.5,1077.0 L541.5,1077.0 L543.5,1077.0 L545.5,1077.0 L547.5,1077.0 L549.5,1077.0 L551.5,1077.0 L553.5,1077.0 L555.5,1077.0 L557.5,1077.0 L559.5,1077.0 L561.5,1077.0 L563.5,1077.0 L565.5,1077.0 L567.5,1077.0 L569.5,1077.0 L571.5,1077.0 L573.5,1077.0 L575.5,1077.0 L577.5,1077.0 L579.5,1077.0 L581.5,1077.0 L583.5,1077.0 L585.5,1077.0 L587.5,1077.0 L589.5,1077.0 L591.5,1077.0 L593.5,1077.0 L595.5,1077.0 L597.5,1077.0 L599.5,1077.0 L601.5,1077.0 L603.5,1076.9 L605.5,1076.9 L607.5,1076.9 L609.5,1076.9 L611.5,1076.9 L613.5,1076.9 L615.5,1076.9 L617.5,1076.9 L619.5,1076.9 L621.5,1076.9 L623.5,1076.9 L625.5,1076.9 L627.5,1076.9 L629.5,1076.9 L631.5,1076.9 L633.5,1076.9 L635.5,1076.9 L637.5,1076.9 L639.5,1076.8 L641.5,1076.8 L643.5,1076.8 L645.5,1076.8 L647.5,1076.8 L649.5,1076.8 L651.5,1076.8 L653.5,1076.8 L655.5,1076.7 L657.5,1076.7 L659.5,1076.7 L661.5,1076.7 L663.5,1076.7 L665.5,1076.7 L667.5,1076.6 L669.5,1076.6 L671.5,1076.6 L673.5,1076.6 L675.5,1076.6 L677.5,1076.5 L679.5,1076.5 L681.5,1076.5 L683.5,1076.4 L685.5,1076.4 L687.5,1076.4 L689.5,1076.4 L691.5,1076.3 L693.5,1076.3 L695.5,1076.2 L697.5,1076.2 L699.5,1076.2 L701.5,1076.1 L703.5,1076.1 L705.5,1076.0 L707.5,1076.0 L709.5,1075.9 L711.5,1075.8 L713.5,1075.8 L715.5,1075.7 L717.5,1075.7 L719.5,1075.6 L721.5,1075.5 L723.5,1075.4 L725.5,1075.4 L727.5,1075.3 L729.5,1075.2 L731.5,1075.1 L733.5,1075.0 L735.5,1074.9 L737.5,1074.8 L739.5,1074.7 L741.5,1074.6 L743.5,1074.5 L745.5,1074.4 L747.5,1074.3 L749.5,1074.1 L751.5,1074.0 L753.5,1073.9 L755.5,1073.7 L757.5,1073.6 L759.5,1073.4 L761.5,1073.2 L763.5,1073.1 L765.5,1072.9 L767.5,1072.7 L769.5,1072.5 L771.5,1072.3 L773.5,1072.1 L775.5,1071.9 L777.5,1071.7 L779.5,1071.5 L781.5,1071.2 L783.5,1071.0 L785.5,1070.8 L787.5,1070.5 L789.5,1070.2 L791.5,1069.9 L793.5,1069.7 L795.5,1069.4 L797.5,1069.1 L799.5,1068.7 L801.5,1068.4 L803.5,1068.1 L805.5,1067.7 L807.5,1067.4 L809.5,1067.0 L811.5,1066.6 L813.5,1066.2 L815.5,1065.8 L817.5,1065.4 L819.5,1065.0 L821.5,1064.5 L823.5,1064.1 L825.5,1063.6 L827.5,1063.1 L829.5,1062.6 L831.5,1062.1 L833.5,1061.6 L835.5,1061.0 L837.5,1060.5 L839.5,1059.9 L841.5,1059.3 L843.5,1058.7 L845.5,1058.1 L847.5,1057.5 L849.5,1056.8 L851.5,1056.2 L853.5,1055.5 L855.5,1054.8 L857.5,1054.1 L859.5,1053.4 L861.5,1052.6 L863.5,1051.9 L865.5,1051.1 L867.5,1050.3 L869.5,1049.5 L871.5,1048.6 L873.5,1047.8 L875.5,1046.9 L877.5,1046.0 L879.5,1045.1 L881.5,1044.2 L883.5,1043.3 L885.5,1042.3 L887.5,1041.4 L889.5,1040.4 L891.5,1039.4 L893.5,1038.4 L895.5,1037.3 L897.5,1036.3 L899.5,1035.2 L901.5,1034.1 L903.5,1033.0 L905.5,1031.9 L907.5,1030.8 L909.5,1029.6 L911.5,1028.4 L913.5,1027.2 L915.5,1026.0 L917.5,1024.8 L919.5,1023.6 L921.5,1022.3 L923.5,1021.1 L925.5,1019.8 L927.5,1018.5 L929.5,1017.2 L931.5,1015.9 L933.5,1014.6 L935.5,1013.2 L937.5,1011.9 L939.5,1010.5 L941.5,1009.1 L943.5,1007.7 L945.5,1006.4 L947.5,1005.0 L949.5,1003.5 L951.5,1002.1 L953.5,1000.7 L955.5,999.3 L957.5,997.8 L959.5,996.4 L961.5,994.9 L963.5,993.5 L965.5,992.0 L967.5,990.6 L969.5,989.1 L971.5,987.6 L973.5,986.2 L975.5,984.7 L977.5,983.2 L979.5,981.8 L981.5,980.3 L983.5,978.9 L985.5,977.4 L987.5,976.0 L989.5,974.5 L991.5,973.1 L993.5,971.7 L995.5,970.3 L997.5,968.9 L999.5,967.5 L1001.5,966.1 L1003.5,964.7 L1005.5,963.3 L1007.5,962.0 L1009.5,960.7 L1011.5,959.3 L1013.5,958.0 L1015.5,956.8 L1017.5,955.5 L1019.5,954.3 L1021.5,953.0 L1023.5,951.8 L1025.5,950.6 L1027.5,949.5 L1029.5,948.3 L1031.5,947.2 L1033.5,946.1 L1035.5,945.1 L1037.5,944.0 L1039.5,943.0 L1041.5,942.0 L1043.5,941.1 L1045.5,940.2 L1047.5,939.3 L1049.5,938.4 L1051.5,937.6 L1053.5,936.8 L1055.5,936.0 L1057.5,935.3 L1059.5,934.6 L1061.5,933.9 L1063.5,933.3 L1065.5,932.7 L1067.5,932.1 L1069.5,931.6 L1071.5,931.1 L1073.5,930.7 L1075.5,930.2 L1077.5,929.9 L1079.5,929.5 L1081.5,929.2 L1083.5,929.0 L1085.5,928.7 L1087.5,928.6 L1089.5,928.4 L1091.5,928.3 L1093.5,928.2 L1095.5,928.2 L1097.5,928.2 L1099.5,928.3 L1101.5,928.3 L1103.5,928.5 L1105.5,928.6 L1107.5,928.8 L1109.5,929.1 L1111.5,929.4 L1113.5,929.7 L1115.5,930.0 L1117.5,930.4 L1119.5,930.9 L1121.5,931.3 L1123.5,931.9 L1125.5,932.4 L1127.5,933.0 L1129.5,933.6 L1131.5,934.2 L1133.5,934.9 L1135.5,935.6 L1137.5,936.4 L1139.5,937.2 L1141.5,938.0 L1143.5,938.8 L1145.5,939.7 L1147.5,940.6 L1149.5,941.6 L1151.5,942.5 L1153.5,943.5 L1155.5,944.6 L1157.5,945.6 L1159.5,946.7 L1161.5,947.8 L1163.5,948.9 L1165.5,950.1 L1167.5,951.2 L1169.5,952.4 L1171.5,953.6 L1173.5,954.9 L1175.5,956.1 L1177.5,957.4 L1179.5,958.7 L1181.5,960.0 L1183.5,961.3 L1185.5,962.7 L1187.5,964.0 L1189.5,965.4 L1191.5,966.8 L1193.5,968.2 L1195.5,969.6 L1197.5,971.0 L1199.5,972.4 L1201.5,973.8 L1203.5,975.2 L1205.5,976.7 L1207.5,978.1 L1209.5,979.6 L1211.5,981.0 L1213.5,982.5 L1215.5,984.0 L1217.5,985.4 L1219.5,986.9 L1221.5,988.4 L1223.5,989.8 L1225.5,991.3 L1227.5,992.7 L1229.5,994.2 L1231.5,995.6 L1233.5,997.1 L1235.5,998.5 L1237.5,1000.0 L1239.5,1001.4 L1241.5,1002.8 L1243.5,1004.2 L1245.5,1005.7 L1247.5,1007.1 L1249.5,1008.4 L1251.5,1009.8 L1253.5,1011.2 L1255.5,1012.5 L1257.5,1013.9 L1259.5,1015.2 L1261.5,1016.6 L1263.5,1017.9 L1265.5,1019.2 L1267.5,1020.4 L1269.5,1021.7 L1271.5,1023.0 L1273.5,1024.2 L1275.5,1025.4 L1277.5,1026.6 L1279.5,1027.8 L1281.5,1029.0 L1283.5,1030.2 L1285.5,1031.3 L1287.5,1032.5 L1289.5,1033.6 L1291.5,1034.7 L1293.5,1035.7 L1295.5,1036.8 L1297.5,1037.9 L1299.5,1038.9 L1301.5,1039.9 L1303.5,1040.9 L1305.5,1041.9 L1307.5,1042.8 L1309.5,1043.8 L1311.5,1044.7 L1313.5,1045.6 L1315.5,1046.5 L1317.5,1047.4 L1319.5,1048.2 L1321.5,1049.1 L1323.5,1049.9 L1325.5,1050.7 L1327.5,1051.5 L1329.5,1052.2 L1331.5,1053.0 L1333.5,1053.7 L1335.5,1054.4 L1337.5,1055.1 L1339.5,1055.8 L1341.5,1056.5 L1343.5,1057.2 L1345.5,1057.8 L1347.5,1058.4 L1349.5,1059.0 L1351.5,1059.6 L1353.5,1060.2 L1355.5,1060.8 L1357.5,1061.3 L1359.5,1061.8 L1361.5,1062.4 L1363.5,1062.9 L1365.5,1063.3 L1367.5,1063.8 L1369.5,1064.3 L1371.5,1064.7 L1373.5,1065.2 L1375.5,1065.6 L1377.5,1066.0 L1379.5,1066.4 L1381.5,1066.8 L1383.5,1067.2 L1385.5,1067.5 L1387.5,1067.9 L1389.5,1068.2 L1391.5,1068.6 L1393.5,1068.9 L1395.5,1069.2 L1397.5,1069.5 L1399.5,1069.8 L1401.5,1070.1 L1403.5,1070.4 L1405.5,1070.6 L1407.5,1070.9 L1409.5,1071.1 L1411.5,1071.4 L1413.5,1071.6 L1415.5,1071.8 L1417.5,1072.0 L1419.5,1072.2 L1421.5,1072.4 L1423.5,1072.6 L1425.5,1072.8 L1427.5,1073.0 L1429.5,1073.2 L1431.5,1073.3 L1433.5,1073.5 L1435.5,1073.6 L1437.5,1073.8 L1439.5,1073.9 L1441.5,1074.1 L1443.5,1074.2 L1445.5,1074.3 L1447.5,1074.4 L1449.5,1074.6 L1451.5,1074.7 L1453.5,1074.8 L1455.5,1074.9 L1457.5,1075.0 L1459.5,1075.1 L1461.5,1075.2 L1463.5,1075.2 L1465.5,1075.3 L1467.5,1075.4 L1469.5,1075.5 L1471.5,1075.6 L1473.5,1075.6 L1475.5,1075.7 L1477.5,1075.8 L1479.5,1075.8 L1481.5,1075.9 L1483.5,1075.9 L1485.5,1076.0 L1487.5,1076.0 L1489.5,1076.1 L1491.5,1076.1 L1493.5,1076.2 L1495.5,1076.2 L1497.5,1076.3 L1499.5,1076.3 L1501.5,1076.3 L1503.5,1076.4 L1505.5,1076.4 L1507.5,1076.4 L1509.5,1076.5 L1511.5,1076.5 L1513.5,1076.5 L1515.5,1076.5 L1517.5,1076.6 L1519.5,1076.6 L1521.5,1076.6 L1523.5,1076.6 L1525.5,1076.7 L1527.5,1076.7 L1529.5,1076.7" stroke="#ff4a4a" stroke-width="3" fill="none" stroke-dasharray="13 11.1"/>
<line x1="1134" y1="1077" x2="1531" y2="1077" stroke="#ff4a4a" stroke-width="3"/>
<path d="M208.0,1058.7 L212.2,1057.5 L216.5,1056.4 L220.8,1055.4 L225.0,1054.5 L229.2,1053.5 L233.5,1052.6 L237.8,1051.6 L242.0,1050.5 L246.2,1049.4 L250.5,1048.4 L254.8,1047.3 L259.0,1046.2 L263.2,1044.9 L267.5,1043.6 L271.8,1042.1 L276.0,1040.5 L280.2,1038.6 L284.5,1036.6 L288.8,1034.4 L293.0,1032.1 L297.2,1029.7 L301.5,1027.2 L305.8,1024.6 L310.0,1022.0 L314.2,1019.4 L318.5,1016.8 L322.8,1014.0 L327.0,1011.2 L331.2,1008.2 L335.5,1005.0 L339.8,1001.7 L344.0,998.1 L348.2,994.1 L352.5,989.7 L356.8,985.2 L361.0,980.9 L365.2,976.9 L369.5,973.1 L373.8,969.5 L378.0,966.0 L388.9,954.8 L400.2,896.2 L411.8,854.0 L423.8,816.7 L435.4,788.2 L446.9,732.8 L458.6,671.5 L471.0,618.3 L483.2,571.4 L495.6,529.7 L507.8,490.3 L519.6,455.5 L532.4,426.0 L544.9,401.7 L558.0,376.8 L570.5,365.6 L583.8,351.4 L596.9,330.3 L610.1,316.2 L622.8,304.4 L636.9,291.3 L649.6,278.1 L663.1,259.4 L676.3,240.6 L691.3,228.4 L704.8,205.0 L718.1,184.0 L733.1,165.6 L746.9,155.9 L761.2,146.5 L775.0,156.8 L790.2,186.9 L804.3,232.8 L819.7,295.1 L833.8,366.2 L849.2,441.6 L863.9,519.5 L879.5,593.4 L892.6,665.6 L910.0,729.5 L926.1,782.6 L941.8,825.6 L957.5,862.3 L975.0,885.8 L990.8,904.4 L1007.1,919.8 L1022.9,927.9 L1039.7,931.5 L1056.0,932.5 L1073.2,931.5 L1090.4,931.9 L1107.7,932.8 L1124.9,934.3 L1143.0,939.7 L1160.2,945.1 L1178.3,955.1 L1196.4,969.6 L1214.2,983.2 L1232.0,993.0 L1252.5,1006.9 L1271.3,1019.8 L1290.1,1034.4 L1308.5,1047.9 L1328.2,1055.0 L1347.5,1062.0 L1368.0,1070.2 L1386.7,1073.1 L1407.4,1077.3 L1425.5,1081.4 L1447.3,1083.5 L1468.0,1083.5 L1488.7,1083.5 L1511.0,1088.7 L1528.0,1086.6" stroke="#ff0000" stroke-width="2.9" fill="none" stroke-linejoin="round"/>
<ellipse cx="208.0" cy="1058.7" rx="7.1" ry="8.6" fill="#ff0000"/>
<ellipse cx="212.2" cy="1057.5" rx="7.1" ry="8.6" fill="#ff0000"/>
<ellipse cx="216.5" cy="1056.4" rx="7.1" ry="8.6" fill="#ff0000"/>
<ellipse cx="220.8" cy="1055.4" rx="7.1" ry="8.6" fill="#ff0000"/>
<ellipse cx="225.0" cy="1054.5" rx="7.1" ry="8.6" fill="#ff0000"/>
<ellipse cx="229.2" cy="1053.5" rx="7.1" ry="8.6" fill="#ff0000"/>
<ellipse cx="233.5" cy="1052.6" rx="7.1" ry="8.6" fill="#ff0000"/>
<ellipse cx="237.8" cy="1051.6" rx="7.1" ry="8.6" fill="#ff0000"/>
<ellipse cx="242.0" cy="1050.5" rx="7.1" ry="8.6" fill="#ff0000"/>
<ellipse cx="246.2" cy="1049.4" rx="7.1" ry="8.6" fill="#ff0000"/>
<ellipse cx="250.5" cy="1048.4" rx="7.1" ry="8.6" fill="#ff0000"/>
<ellipse cx="254.8" cy="1047.3" rx="7.1" ry="8.6" fill="#ff0000"/>
<ellipse cx="259.0" cy="1046.2" rx="7.1" ry="8.6" fill="#ff0000"/>
<ellipse cx="263.2" cy="1044.9" rx="7.1" ry="8.6" fill="#ff0000"/>
<ellipse cx="267.5" cy="1043.6" rx="7.1" ry="8.6" fill="#ff0000"/>
<ellipse cx="271.8" cy="1042.1" rx="7.1" ry="8.6" fill="#ff0000"/>
<ellipse cx="276.0" cy="1040.5" rx="7.1" ry="8.6" fill="#ff0000"/>
<ellipse cx="280.2" cy="1038.6" rx="7.1" ry="8.6" fill="#ff0000"/>
<ellipse cx="284.5" cy="1036.6" rx="7.1" ry="8.6" fill="#ff0000"/>
<ellipse cx="288.8" cy="1034.4" rx="7.1" ry="8.6" fill="#ff0000"/>
<ellipse cx="293.0" cy="1032.1" rx="7.1" ry="8.6" fill="#ff0000"/>
<ellipse cx="297.2" cy="1029.7" rx="7.1" ry="8.6" fill="#ff0000"/>
<ellipse cx="301.5" cy="1027.2" rx="7.1" ry="8.6" fill="#ff0000"/>
<ellipse cx="305.8" cy="1024.6" rx="7.1" ry="8.6" fill="#ff0000"/>
<ellipse cx="310.0" cy="1022.0" rx="7.1" ry="8.6" fill="#ff0000"/>
<ellipse cx="314.2" cy="1019.4" rx="7.1" ry="8.6" fill="#ff0000"/>
<ellipse cx="318.5" cy="1016.8" rx="7.1" ry="8.6" fill="#ff0000"/>
<ellipse cx="322.8" cy="1014.0" rx="7.1" ry="8.6" fill="#ff0000"/>
<ellipse cx="327.0" cy="1011.2" rx="7.1" ry="8.6" fill="#ff0000"/>
<ellipse cx="331.2" cy="1008.2" rx="7.1" ry="8.6" fill="#ff0000"/>
<ellipse cx="335.5" cy="1005.0" rx="7.1" ry="8.6" fill="#ff0000"/>
<ellipse cx="339.8" cy="1001.7" rx="7.1" ry="8.6" fill="#ff0000"/>
<ellipse cx="344.0" cy="998.1" rx="7.1" ry="8.6" fill="#ff0000"/>
<ellipse cx="348.2" cy="994.1" rx="7.1" ry="8.6" fill="#ff0000"/>
<ellipse cx="352.5" cy="989.7" rx="7.1" ry="8.6" fill="#ff0000"/>
<ellipse cx="356.8" cy="985.2" rx="7.1" ry="8.6" fill="#ff0000"/>
<ellipse cx="361.0" cy="980.9" rx="7.1" ry="8.6" fill="#ff0000"/>
<ellipse cx="365.2" cy="976.9" rx="7.1" ry="8.6" fill="#ff0000"/>
<ellipse cx="369.5" cy="973.1" rx="7.1" ry="8.6" fill="#ff0000"/>
<ellipse cx="373.8" cy="969.5" rx="7.1" ry="8.6" fill="#ff0000"/>
<ellipse cx="378.0" cy="966.0" rx="7.1" ry="8.6" fill="#ff0000"/>
<ellipse cx="388.9" cy="954.8" rx="7.1" ry="8.6" fill="#ff0000"/>
<ellipse cx="400.2" cy="896.2" rx="7.1" ry="8.6" fill="#ff0000"/>
<ellipse cx="411.8" cy="854.0" rx="7.1" ry="8.6" fill="#ff0000"/>
<ellipse cx="423.8" cy="816.7" rx="7.1" ry="8.6" fill="#ff0000"/>
<ellipse cx="435.4" cy="788.2" rx="7.1" ry="8.6" fill="#ff0000"/>
<ellipse cx="446.9" cy="732.8" rx="7.1" ry="8.6" fill="#ff0000"/>
<ellipse cx="458.6" cy="671.5" rx="7.1" ry="8.6" fill="#ff0000"/>
<ellipse cx="471.0" cy="618.3" rx="7.1" ry="8.6" fill="#ff0000"/>
<ellipse cx="483.2" cy="571.4" rx="7.1" ry="8.6" fill="#ff0000"/>
<ellipse cx="495.6" cy="529.7" rx="7.1" ry="8.6" fill="#ff0000"/>
<ellipse cx="507.8" cy="490.3" rx="7.1" ry="8.6" fill="#ff0000"/>
<ellipse cx="519.6" cy="455.5" rx="7.1" ry="8.6" fill="#ff0000"/>
<ellipse cx="532.4" cy="426.0" rx="7.1" ry="8.6" fill="#ff0000"/>
<ellipse cx="544.9" cy="401.7" rx="7.1" ry="8.6" fill="#ff0000"/>
<ellipse cx="558.0" cy="376.8" rx="7.1" ry="8.6" fill="#ff0000"/>
<ellipse cx="570.5" cy="365.6" rx="7.1" ry="8.6" fill="#ff0000"/>
<ellipse cx="583.8" cy="351.4" rx="7.1" ry="8.6" fill="#ff0000"/>
<ellipse cx="596.9" cy="330.3" rx="7.1" ry="8.6" fill="#ff0000"/>
<ellipse cx="610.1" cy="316.2" rx="7.1" ry="8.6" fill="#ff0000"/>
<ellipse cx="622.8" cy="304.4" rx="7.1" ry="8.6" fill="#ff0000"/>
<ellipse cx="636.9" cy="291.3" rx="7.1" ry="8.6" fill="#ff0000"/>
<ellipse cx="649.6" cy="278.1" rx="7.1" ry="8.6" fill="#ff0000"/>
<ellipse cx="663.1" cy="259.4" rx="7.1" ry="8.6" fill="#ff0000"/>
<ellipse cx="676.3" cy="240.6" rx="7.1" ry="8.6" fill="#ff0000"/>
<ellipse cx="691.3" cy="228.4" rx="7.1" ry="8.6" fill="#ff0000"/>
<ellipse cx="704.8" cy="205.0" rx="7.1" ry="8.6" fill="#ff0000"/>
<ellipse cx="718.1" cy="184.0" rx="7.1" ry="8.6" fill="#ff0000"/>
<ellipse cx="733.1" cy="165.6" rx="7.1" ry="8.6" fill="#ff0000"/>
<ellipse cx="746.9" cy="155.9" rx="7.1" ry="8.6" fill="#ff0000"/>
<ellipse cx="761.2" cy="146.5" rx="7.1" ry="8.6" fill="#ff0000"/>
<ellipse cx="775.0" cy="156.8" rx="7.1" ry="8.6" fill="#ff0000"/>
<ellipse cx="790.2" cy="186.9" rx="7.1" ry="8.6" fill="#ff0000"/>
<ellipse cx="804.3" cy="232.8" rx="7.1" ry="8.6" fill="#ff0000"/>
<ellipse cx="819.7" cy="295.1" rx="7.1" ry="8.6" fill="#ff0000"/>
<ellipse cx="833.8" cy="366.2" rx="7.1" ry="8.6" fill="#ff0000"/>
<ellipse cx="849.2" cy="441.6" rx="7.1" ry="8.6" fill="#ff0000"/>
<ellipse cx="863.9" cy="519.5" rx="7.1" ry="8.6" fill="#ff0000"/>
<ellipse cx="879.5" cy="593.4" rx="7.1" ry="8.6" fill="#ff0000"/>
<ellipse cx="892.6" cy="665.6" rx="7.1" ry="8.6" fill="#ff0000"/>
<ellipse cx="910.0" cy="729.5" rx="7.1" ry="8.6" fill="#ff0000"/>
<ellipse cx="926.1" cy="782.6" rx="7.1" ry="8.6" fill="#ff0000"/>
<ellipse cx="941.8" cy="825.6" rx="7.1" ry="8.6" fill="#ff0000"/>
<ellipse cx="957.5" cy="862.3" rx="7.1" ry="8.6" fill="#ff0000"/>
<ellipse cx="975.0" cy="885.8" rx="7.1" ry="8.6" fill="#ff0000"/>
<ellipse cx="990.8" cy="904.4" rx="7.1" ry="8.6" fill="#ff0000"/>
<ellipse cx="1007.1" cy="919.8" rx="7.1" ry="8.6" fill="#ff0000"/>
<ellipse cx="1022.9" cy="927.9" rx="7.1" ry="8.6" fill="#ff0000"/>
<ellipse cx="1039.7" cy="931.5" rx="7.1" ry="8.6" fill="#ff0000"/>
<ellipse cx="1056.0" cy="932.5" rx="7.1" ry="8.6" fill="#ff0000"/>
<ellipse cx="1073.2" cy="931.5" rx="7.1" ry="8.6" fill="#ff0000"/>
<ellipse cx="1090.4" cy="931.9" rx="7.1" ry="8.6" fill="#ff0000"/>
<ellipse cx="1107.7" cy="932.8" rx="7.1" ry="8.6" fill="#ff0000"/>
<ellipse cx="1124.9" cy="934.3" rx="7.1" ry="8.6" fill="#ff0000"/>
<ellipse cx="1143.0" cy="939.7" rx="7.1" ry="8.6" fill="#ff0000"/>
<ellipse cx="1160.2" cy="945.1" rx="7.1" ry="8.6" fill="#ff0000"/>
<ellipse cx="1178.3" cy="955.1" rx="7.1" ry="8.6" fill="#ff0000"/>
<ellipse cx="1196.4" cy="969.6" rx="7.1" ry="8.6" fill="#ff0000"/>
<ellipse cx="1214.2" cy="983.2" rx="7.1" ry="8.6" fill="#ff0000"/>
<ellipse cx="1232.0" cy="993.0" rx="7.1" ry="8.6" fill="#ff0000"/>
<ellipse cx="1252.5" cy="1006.9" rx="7.1" ry="8.6" fill="#ff0000"/>
<ellipse cx="1271.3" cy="1019.8" rx="7.1" ry="8.6" fill="#ff0000"/>
<ellipse cx="1290.1" cy="1034.4" rx="7.1" ry="8.6" fill="#ff0000"/>
<ellipse cx="1308.5" cy="1047.9" rx="7.1" ry="8.6" fill="#ff0000"/>
<ellipse cx="1328.2" cy="1055.0" rx="7.1" ry="8.6" fill="#ff0000"/>
<ellipse cx="1347.5" cy="1062.0" rx="7.1" ry="8.6" fill="#ff0000"/>
<ellipse cx="1368.0" cy="1070.2" rx="7.1" ry="8.6" fill="#ff0000"/>
<ellipse cx="1386.7" cy="1073.1" rx="7.1" ry="8.6" fill="#ff0000"/>
<ellipse cx="1407.4" cy="1077.3" rx="7.1" ry="8.6" fill="#ff0000"/>
<ellipse cx="1425.5" cy="1081.4" rx="7.1" ry="8.6" fill="#ff0000"/>
<ellipse cx="1447.3" cy="1083.5" rx="7.1" ry="8.6" fill="#ff0000"/>
<ellipse cx="1468.0" cy="1083.5" rx="7.1" ry="8.6" fill="#ff0000"/>
<ellipse cx="1488.7" cy="1083.5" rx="7.1" ry="8.6" fill="#ff0000"/>
<ellipse cx="1511.0" cy="1088.7" rx="7.1" ry="8.6" fill="#ff0000"/>
<ellipse cx="1528.0" cy="1086.6" rx="7.1" ry="8.6" fill="#ff0000"/>
<path d="M336.7,1097.3 L347.9,1097.3 L359.2,1097.2 L370.5,1097.2 L381.9,1097.2 L393.4,1097.1 L405.0,1097.1 L416.7,1097.1 L428.5,1097.0 L440.3,1097.0 L452.3,1096.7 L464.3,1096.5 L476.4,1096.2 L488.6,1095.9 L500.9,1095.6 L513.3,1095.3 L525.8,1095.1 L538.4,1094.8 L550.5,1094.5 L563.3,1094.5 L577.3,1093.0 L588.1,1093.0 L602.1,1093.0 L616.1,1092.2 L629.3,1092.2 L640.9,1091.4 L654.1,1091.4 L668.9,1090.7 L682.1,1090.7 L696.8,1088.3 L710.8,1087.5 L724.8,1085.2 L738.6,1075.5 L752.8,1067.0 L766.6,1058.9 L780.7,1046.1 L795.2,1028.9 L810.0,1006.5 L827.2,976.4 L840.9,932.1 L854.5,881.5 L869.7,815.7 L886.1,740.3 L900.8,652.5 L918.5,565.0 L932.6,476.8 L949.8,391.9 L964.3,317.0 L983.5,256.6 L995.8,205.6 L1012.6,168.7 L1030.4,156.0 L1048.3,154.4 L1062.6,210.9 L1080.2,262.5 L1097.5,361.0 L1115.0,463.2 L1132.8,564.7 L1150.6,667.8 L1169.0,759.1 L1185.7,837.6 L1203.3,899.0 L1220.5,957.3 L1241.5,989.6 L1257.2,1023.3 L1276.6,1046.2 L1297.7,1063.2 L1315.9,1078.4 L1337.0,1083.1 L1355.7,1089.0 L1376.2,1090.1 L1393.5,1091.8 L1415.2,1094.9 L1435.9,1094.9 L1457.1,1094.9 L1477.8,1094.9 L1497.5,1092.8 L1518.2,1073.1" stroke="#0000c8" stroke-width="2.8" fill="none" stroke-linejoin="round"/>
<path d="M336.7,1097.3 L347.9,1097.3 L359.2,1097.2 L370.5,1097.2 L381.9,1097.2 L393.4,1097.1 L405.0,1097.1 L416.7,1097.1 L428.5,1097.0 L440.3,1097.0 L452.3,1096.7 L464.3,1096.5 L476.4,1096.2 L488.6,1095.9 L500.9,1095.6 L513.3,1095.3 L525.8,1095.1 L538.4,1094.8 L550.5,1094.5 L563.3,1094.5 L577.3,1093.0 L588.1,1093.0 L602.1,1093.0 L616.1,1092.2 L629.3,1092.2 L640.9,1091.4 L654.1,1091.4 L668.9,1090.7 L682.1,1090.7 L696.8,1088.3 L710.8,1087.5 L724.8,1085.2" stroke="#0000c8" stroke-width="13" fill="none" stroke-linejoin="round" stroke-linecap="round"/>
<path d="M336.7,1087.1L344.5,1097.3L336.7,1107.5L328.9,1097.3ZM347.9,1087.1L355.7,1097.3L347.9,1107.5L340.1,1097.3ZM359.2,1087.0L367.0,1097.2L359.2,1107.4L351.4,1097.2ZM370.5,1087.0L378.3,1097.2L370.5,1107.4L362.7,1097.2ZM381.9,1087.0L389.7,1097.2L381.9,1107.4L374.1,1097.2ZM393.4,1086.9L401.2,1097.1L393.4,1107.3L385.6,1097.1ZM405.0,1086.9L412.8,1097.1L405.0,1107.3L397.2,1097.1ZM416.7,1086.9L424.5,1097.1L416.7,1107.3L408.9,1097.1ZM428.5,1086.8L436.3,1097.0L428.5,1107.2L420.7,1097.0ZM440.3,1086.8L448.1,1097.0L440.3,1107.2L432.5,1097.0ZM452.3,1086.5L460.1,1096.7L452.3,1106.9L444.5,1096.7ZM464.3,1086.3L472.1,1096.5L464.3,1106.7L456.5,1096.5ZM476.4,1086.0L484.2,1096.2L476.4,1106.4L468.6,1096.2ZM488.6,1085.7L496.4,1095.9L488.6,1106.1L480.8,1095.9ZM500.9,1085.4L508.7,1095.6L500.9,1105.8L493.1,1095.6ZM513.3,1085.1L521.1,1095.3L513.3,1105.5L505.5,1095.3ZM525.8,1084.9L533.6,1095.1L525.8,1105.3L518.0,1095.1ZM538.4,1084.6L546.2,1094.8L538.4,1105.0L530.6,1094.8ZM550.5,1084.3L558.3,1094.5L550.5,1104.7L542.7,1094.5ZM563.3,1084.3L571.1,1094.5L563.3,1104.7L555.5,1094.5ZM577.3,1082.8L585.1,1093.0L577.3,1103.2L569.5,1093.0ZM588.1,1082.8L595.9,1093.0L588.1,1103.2L580.3,1093.0ZM602.1,1082.8L609.9,1093.0L602.1,1103.2L594.3,1093.0ZM616.1,1082.0L623.9,1092.2L616.1,1102.4L608.3,1092.2ZM629.3,1082.0L637.1,1092.2L629.3,1102.4L621.5,1092.2ZM640.9,1081.2L648.7,1091.4L640.9,1101.6L633.1,1091.4ZM654.1,1081.2L661.9,1091.4L654.1,1101.6L646.3,1091.4ZM668.9,1080.5L676.7,1090.7L668.9,1100.9L661.1,1090.7ZM682.1,1080.5L689.9,1090.7L682.1,1100.9L674.3,1090.7ZM696.8,1078.1L704.6,1088.3L696.8,1098.5L689.0,1088.3ZM710.8,1077.3L718.6,1087.5L710.8,1097.7L703.0,1087.5ZM724.8,1075.0L732.6,1085.2L724.8,1095.4L717.0,1085.2ZM738.6,1065.3L746.4,1075.5L738.6,1085.7L730.8,1075.5ZM752.8,1056.8L760.6,1067.0L752.8,1077.2L745.0,1067.0ZM766.6,1048.7L774.4,1058.9L766.6,1069.1L758.8,1058.9ZM780.7,1035.9L788.5,1046.1L780.7,1056.3L772.9,1046.1ZM795.2,1018.7L803.0,1028.9L795.2,1039.1L787.4,1028.9ZM810.0,996.3L817.8,1006.5L810.0,1016.7L802.2,1006.5ZM827.2,966.2L835.0,976.4L827.2,986.6L819.4,976.4ZM840.9,921.9L848.7,932.1L840.9,942.3L833.1,932.1ZM854.5,871.3L862.3,881.5L854.5,891.7L846.7,881.5ZM869.7,805.5L877.5,815.7L869.7,825.9L861.9,815.7ZM886.1,730.1L893.9,740.3L886.1,750.5L878.3,740.3ZM900.8,642.3L908.6,652.5L900.8,662.7L893.0,652.5ZM918.5,554.8L926.3,565.0L918.5,575.2L910.7,565.0ZM932.6,466.6L940.4,476.8L932.6,487.0L924.8,476.8ZM949.8,381.7L957.6,391.9L949.8,402.1L942.0,391.9ZM964.3,306.8L972.1,317.0L964.3,327.2L956.5,317.0ZM983.5,246.4L991.3,256.6L983.5,266.8L975.7,256.6ZM995.8,195.4L1003.6,205.6L995.8,215.8L988.0,205.6ZM1012.6,158.5L1020.4,168.7L1012.6,178.9L1004.8,168.7ZM1030.4,145.8L1038.2,156.0L1030.4,166.2L1022.6,156.0ZM1048.3,144.2L1056.1,154.4L1048.3,164.6L1040.5,154.4ZM1062.6,200.7L1070.4,210.9L1062.6,221.1L1054.8,210.9ZM1080.2,252.3L1088.0,262.5L1080.2,272.7L1072.4,262.5ZM1097.5,350.8L1105.3,361.0L1097.5,371.2L1089.7,361.0ZM1115.0,453.0L1122.8,463.2L1115.0,473.4L1107.2,463.2ZM1132.8,554.5L1140.6,564.7L1132.8,574.9L1125.0,564.7ZM1150.6,657.6L1158.4,667.8L1150.6,678.0L1142.8,667.8ZM1169.0,748.9L1176.8,759.1L1169.0,769.3L1161.2,759.1ZM1185.7,827.4L1193.5,837.6L1185.7,847.8L1177.9,837.6ZM1203.3,888.8L1211.1,899.0L1203.3,909.2L1195.5,899.0ZM1220.5,947.1L1228.3,957.3L1220.5,967.5L1212.7,957.3ZM1241.5,979.4L1249.3,989.6L1241.5,999.8L1233.7,989.6ZM1257.2,1013.1L1265.0,1023.3L1257.2,1033.5L1249.4,1023.3ZM1276.6,1036.0L1284.4,1046.2L1276.6,1056.4L1268.8,1046.2ZM1297.7,1053.0L1305.5,1063.2L1297.7,1073.4L1289.9,1063.2ZM1315.9,1068.2L1323.7,1078.4L1315.9,1088.6L1308.1,1078.4ZM1337.0,1072.9L1344.8,1083.1L1337.0,1093.3L1329.2,1083.1ZM1355.7,1078.8L1363.5,1089.0L1355.7,1099.2L1347.9,1089.0ZM1376.2,1079.9L1384.0,1090.1L1376.2,1100.3L1368.4,1090.1ZM1393.5,1081.6L1401.3,1091.8L1393.5,1102.0L1385.7,1091.8ZM1415.2,1084.7L1423.0,1094.9L1415.2,1105.1L1407.4,1094.9ZM1435.9,1084.7L1443.7,1094.9L1435.9,1105.1L1428.1,1094.9ZM1457.1,1084.7L1464.9,1094.9L1457.1,1105.1L1449.3,1094.9ZM1477.8,1084.7L1485.6,1094.9L1477.8,1105.1L1470.0,1094.9ZM1497.5,1082.6L1505.3,1092.8L1497.5,1103.0L1489.7,1092.8ZM1518.2,1062.9L1526.0,1073.1L1518.2,1083.3L1510.4,1073.1Z" fill="#0000c8"/>
</g>
<rect x="209.00" y="32.50" width="1324.00" height="2.70" fill="#e6e6e6"/>
<rect x="209.00" y="35.20" width="1324.00" height="5.60" fill="#575757"/>
<rect x="209.00" y="1108.00" width="1324.00" height="2.60" fill="#222"/>
<rect x="209.00" y="1110.60" width="1324.00" height="3.00" fill="#9a9a9a"/>
<rect x="206.20" y="35.20" width="2.90" height="1078.00" fill="#c4c4c4"/>
<rect x="209.10" y="38.00" width="2.90" height="1075.00" fill="#0a0a0a"/>
<rect x="1530.20" y="35.20" width="3.00" height="1078.00" fill="#050505"/>
<rect x="1533.20" y="35.20" width="3.00" height="1078.00" fill="#cacaca"/>
<text transform="matrix(0.4837 0 0 0.5211 122.90 169.48)" font-family="&quot;Liberation Sans&quot;, sans-serif" font-weight="bold" font-size="100" fill="#000">1.0</text>
<text transform="matrix(0.4773 0 0 0.5225 123.49 640.98)" font-family="&quot;Liberation Sans&quot;, sans-serif" font-weight="bold" font-size="100" fill="#000">0.5</text>
<text transform="matrix(0.4809 0 0 0.5239 123.48 1112.28)" font-family="&quot;Liberation Sans&quot;, sans-serif" font-weight="bold" font-size="100" fill="#000">0.0</text>
<text transform="matrix(0.4803 0 0 0.5338 163.58 1174.07)" font-family="&quot;Liberation Sans&quot;, sans-serif" font-weight="bold" font-size="100" fill="#000">0.85</text>
<text transform="matrix(0.4903 0 0 0.5338 340.14 1174.07)" font-family="&quot;Liberation Sans&quot;, sans-serif" font-weight="bold" font-size="100" fill="#000">0.90</text>
<text transform="matrix(0.4803 0 0 0.5338 516.48 1174.07)" font-family="&quot;Liberation Sans&quot;, sans-serif" font-weight="bold" font-size="100" fill="#000">0.95</text>
<text transform="matrix(0.4853 0 0 0.5338 693.09 1174.07)" font-family="&quot;Liberation Sans&quot;, sans-serif" font-weight="bold" font-size="100" fill="#000">1.00</text>
<text transform="matrix(0.4796 0 0 0.5338 867.52 1174.07)" font-family="&quot;Liberation Sans&quot;, sans-serif" font-weight="bold" font-size="100" fill="#000">1.05</text>
<text transform="matrix(0.4848 0 0 0.5338 1044.09 1174.07)" font-family="&quot;Liberation Sans&quot;, sans-serif" font-weight="bold" font-size="100" fill="#000">1.10</text>
<text transform="matrix(0.4801 0 0 0.5414 1219.82 1174.06)" font-family="&quot;Liberation Sans&quot;, sans-serif" font-weight="bold" font-size="100" fill="#000">1.15</text>
<text transform="matrix(0.4783 0 0 0.5338 1397.03 1174.07)" font-family="&quot;Liberation Sans&quot;, sans-serif" font-weight="bold" font-size="100" fill="#000">1.20</text>
<text transform="matrix(0.6451 0 0 0.6870 691.48 1245.20)" font-family="&quot;Liberation Sans&quot;, sans-serif" font-weight="bold" font-size="100" fill="#000">Energy [eV]</text>
<text transform="matrix(0 -0.7095 0.6957 0 85.60 851.97)" font-family="&quot;Liberation Sans&quot;, sans-serif" font-weight="bold" font-size="100" fill="#000">Normalized PL</text>
<text transform="matrix(0.8418 0 0 0.9000 289.43 197.10)" font-family="&quot;Liberation Sans&quot;, sans-serif" font-weight="bold" font-size="100" fill="#000">7K</text>
<text transform="matrix(0.8769 0 0 0.9154 546.77 212.60)" font-family="&quot;Liberation Serif&quot;, serif" font-weight="normal" font-size="100" fill="#000">D</text>
<text transform="matrix(0.4057 0 0 0.5485 611.75 246.80)" font-family="&quot;Liberation Serif&quot;, serif" font-weight="normal" font-size="100" fill="#000">1</text>
<text transform="matrix(0.8831 0 0 0.8831 1153.95 429.80)" font-family="&quot;Liberation Serif&quot;, serif" font-weight="normal" font-size="100" fill="#000">D</text>
<text transform="matrix(0.5600 0 0 0.5677 1211.26 465.40)" font-family="&quot;Liberation Serif&quot;, serif" font-weight="normal" font-size="100" fill="#000">2</text>
<text transform="matrix(0.5889 0 0 0.5368 1280.72 157.53)" font-family="&quot;Liberation Serif&quot;, serif" font-weight="normal" font-size="100" fill="#000">η</text>
<text transform="matrix(0.5560 0 0 0.5053 1330.98 153.87)" font-family="&quot;Liberation Sans&quot;, sans-serif" font-weight="bold" font-size="100" fill="#000">=</text>
<text transform="matrix(0.5391 0 0 0.5843 1393.54 157.02)" font-family="&quot;Liberation Sans&quot;, sans-serif" font-weight="bold" font-size="100" fill="#000">7%</text>
<text transform="matrix(0.5800 0 0 0.5147 1281.44 228.69)" font-family="&quot;Liberation Serif&quot;, serif" font-weight="normal" font-size="100" fill="#000">η</text>
<text transform="matrix(0.5560 0 0 0.4632 1330.98 223.68)" font-family="&quot;Liberation Sans&quot;, sans-serif" font-weight="bold" font-size="100" fill="#000">=</text>
<text transform="matrix(0.5492 0 0 0.5743 1377.50 228.53)" font-family="&quot;Liberation Sans&quot;, sans-serif" font-weight="bold" font-size="100" fill="#000">15%</text>
<line x1="1148.8" y1="137.7" x2="1268.6" y2="137.7" stroke="#ff0000" stroke-width="5.5"/>
<ellipse cx="1208.6" cy="137.7" rx="8.4" ry="11" fill="#ff0000"/>
<line x1="1148.8" y1="209.6" x2="1268.6" y2="209.6" stroke="#3c3cd0" stroke-width="5.5"/>
<path d="M1208.6,196 L1217,209.6 L1208.6,223.2 L1200.2,209.6Z" fill="#0000c8"/>
</svg>
</body></html>
